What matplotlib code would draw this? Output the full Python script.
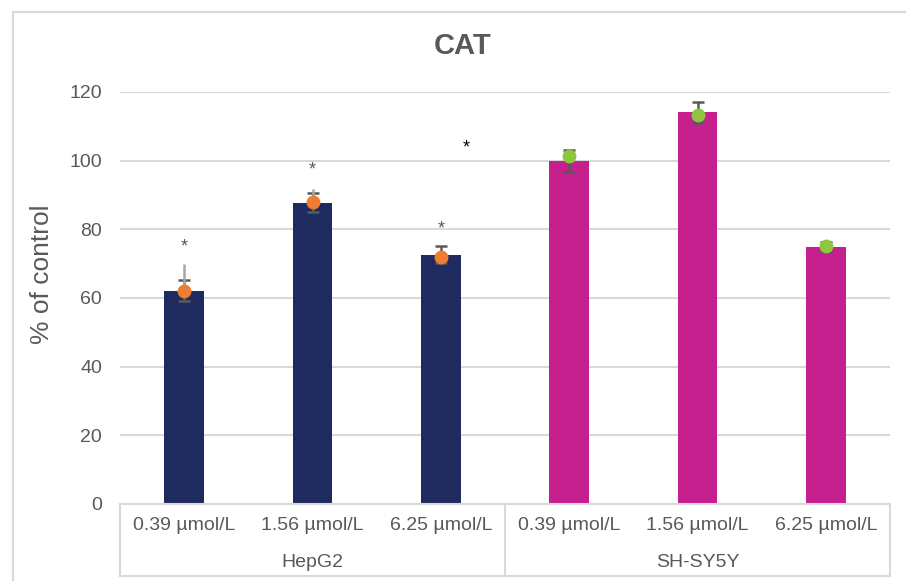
import matplotlib.pyplot as plt
from matplotlib.patches import Rectangle

plt.rcParams['font.family'] = ['Liberation Sans', 'DejaVu Sans']

# data
conc_labels = ['0.39 µmol/L', '1.56 µmol/L', '6.25 µmol/L',
               '0.39 µmol/L', '1.56 µmol/L', '6.25 µmol/L']
groups = ['HepG2', 'SH-SY5Y']
bar_vals = [62.1, 87.8, 72.6, 100.0, 114.1, 74.8]
bar_err = [3.0, 2.8, 2.5, 3.2, 3.0, 1.5]
dot_vals = [62.0, 88.0, 71.9, 101.5, 113.4, 75.1]
dot_err_up = [8.0, 3.7, 0.0, 0.0, 0.0, 0.0]
star_vals = [75.0, 97.2, 80.0]          # significance marks over HepG2 bars
extra_star = (2.2, 103.6)               # stray asterisk between groups

bar_colors = ['#1F2A5E'] * 3 + ['#C5208E'] * 3
dot_colors = ['#ED7D31'] * 3 + ['#8DC63F'] * 3
grid_c = '#D9D9D9'
text_c = '#595959'

fig = plt.figure(figsize=(9.06, 5.81), dpi=100)
ax = fig.add_axes([120 / 906, 1 - 504 / 581, 770 / 906, 412 / 581])

x = list(range(len(bar_vals)))
ax.bar(x, bar_vals, width=0.31, color=bar_colors, zorder=2)
ax.errorbar(x, bar_vals, yerr=bar_err, fmt='none', ecolor=text_c,
            elinewidth=1.8, capsize=4, capthick=1.8, zorder=3)
ax.errorbar(x, dot_vals, yerr=[[0] * 6, dot_err_up], fmt='none',
            ecolor='#A6A6A6', elinewidth=1.8, capsize=0, zorder=3)
for xi, yi, c in zip(x, dot_vals, dot_colors):
    ax.plot(xi, yi, 'o', color=c, markersize=9, zorder=4)

for xi, s in zip(x[:3], star_vals):
    ax.text(xi, s, '*', ha='center', va='center', fontsize=13, color=text_c)
ax.text(extra_star[0], extra_star[1], '*', ha='center', va='center',
        fontsize=13, color='black')

ax.set_xlim(-0.5, 5.5)
ax.set_ylim(0, 120)
ax.set_yticks(range(0, 121, 20))
ax.yaxis.grid(True, color=grid_c, linewidth=1.5, zorder=0)
ax.set_axisbelow(True)
for side in ['left', 'right', 'top']:
    ax.spines[side].set_visible(False)
ax.spines['bottom'].set_color(grid_c)
ax.spines['bottom'].set_linewidth(1.5)
ax.tick_params(axis='y', length=0, pad=13, labelsize=14, labelcolor=text_c)
ax.set_xticks(x, conc_labels)
ax.tick_params(axis='x', length=0, pad=9, labelsize=14, labelcolor=text_c)

# category box under the axis
tr = ax.get_xaxis_transform()
yb = -0.175
for xv in [-0.5, 2.5, 5.5]:
    ax.plot([xv, xv], [0, yb], color=grid_c, lw=1.5, transform=tr, clip_on=False)
ax.plot([-0.5, 5.5], [yb, yb], color=grid_c, lw=1.5, transform=tr, clip_on=False)
ax.text(1, -0.141, groups[0], transform=tr, ha='center', va='center',
        fontsize=14, color=text_c)
ax.text(4, -0.141, groups[1], transform=tr, ha='center', va='center',
        fontsize=14, color=text_c)

ax.set_ylabel('% of control', fontsize=19, color=text_c)
ax.yaxis.set_label_coords((42 - 120) / 770, (504 - 274) / 412)
ax.yaxis.label.set_va('center')
fig.text(463 / 906, 1 - 46 / 581, 'CAT', ha='center', va='center',
         fontsize=21, fontweight='bold', color=text_c)

# outer chart border
fig.patches.append(Rectangle((13 / 906, -0.1), 1.2, 1.1 - 12 / 581,
                             transform=fig.transFigure, fill=False,
                             edgecolor=grid_c, linewidth=1.5))

fig.savefig('out.png', dpi=100)
